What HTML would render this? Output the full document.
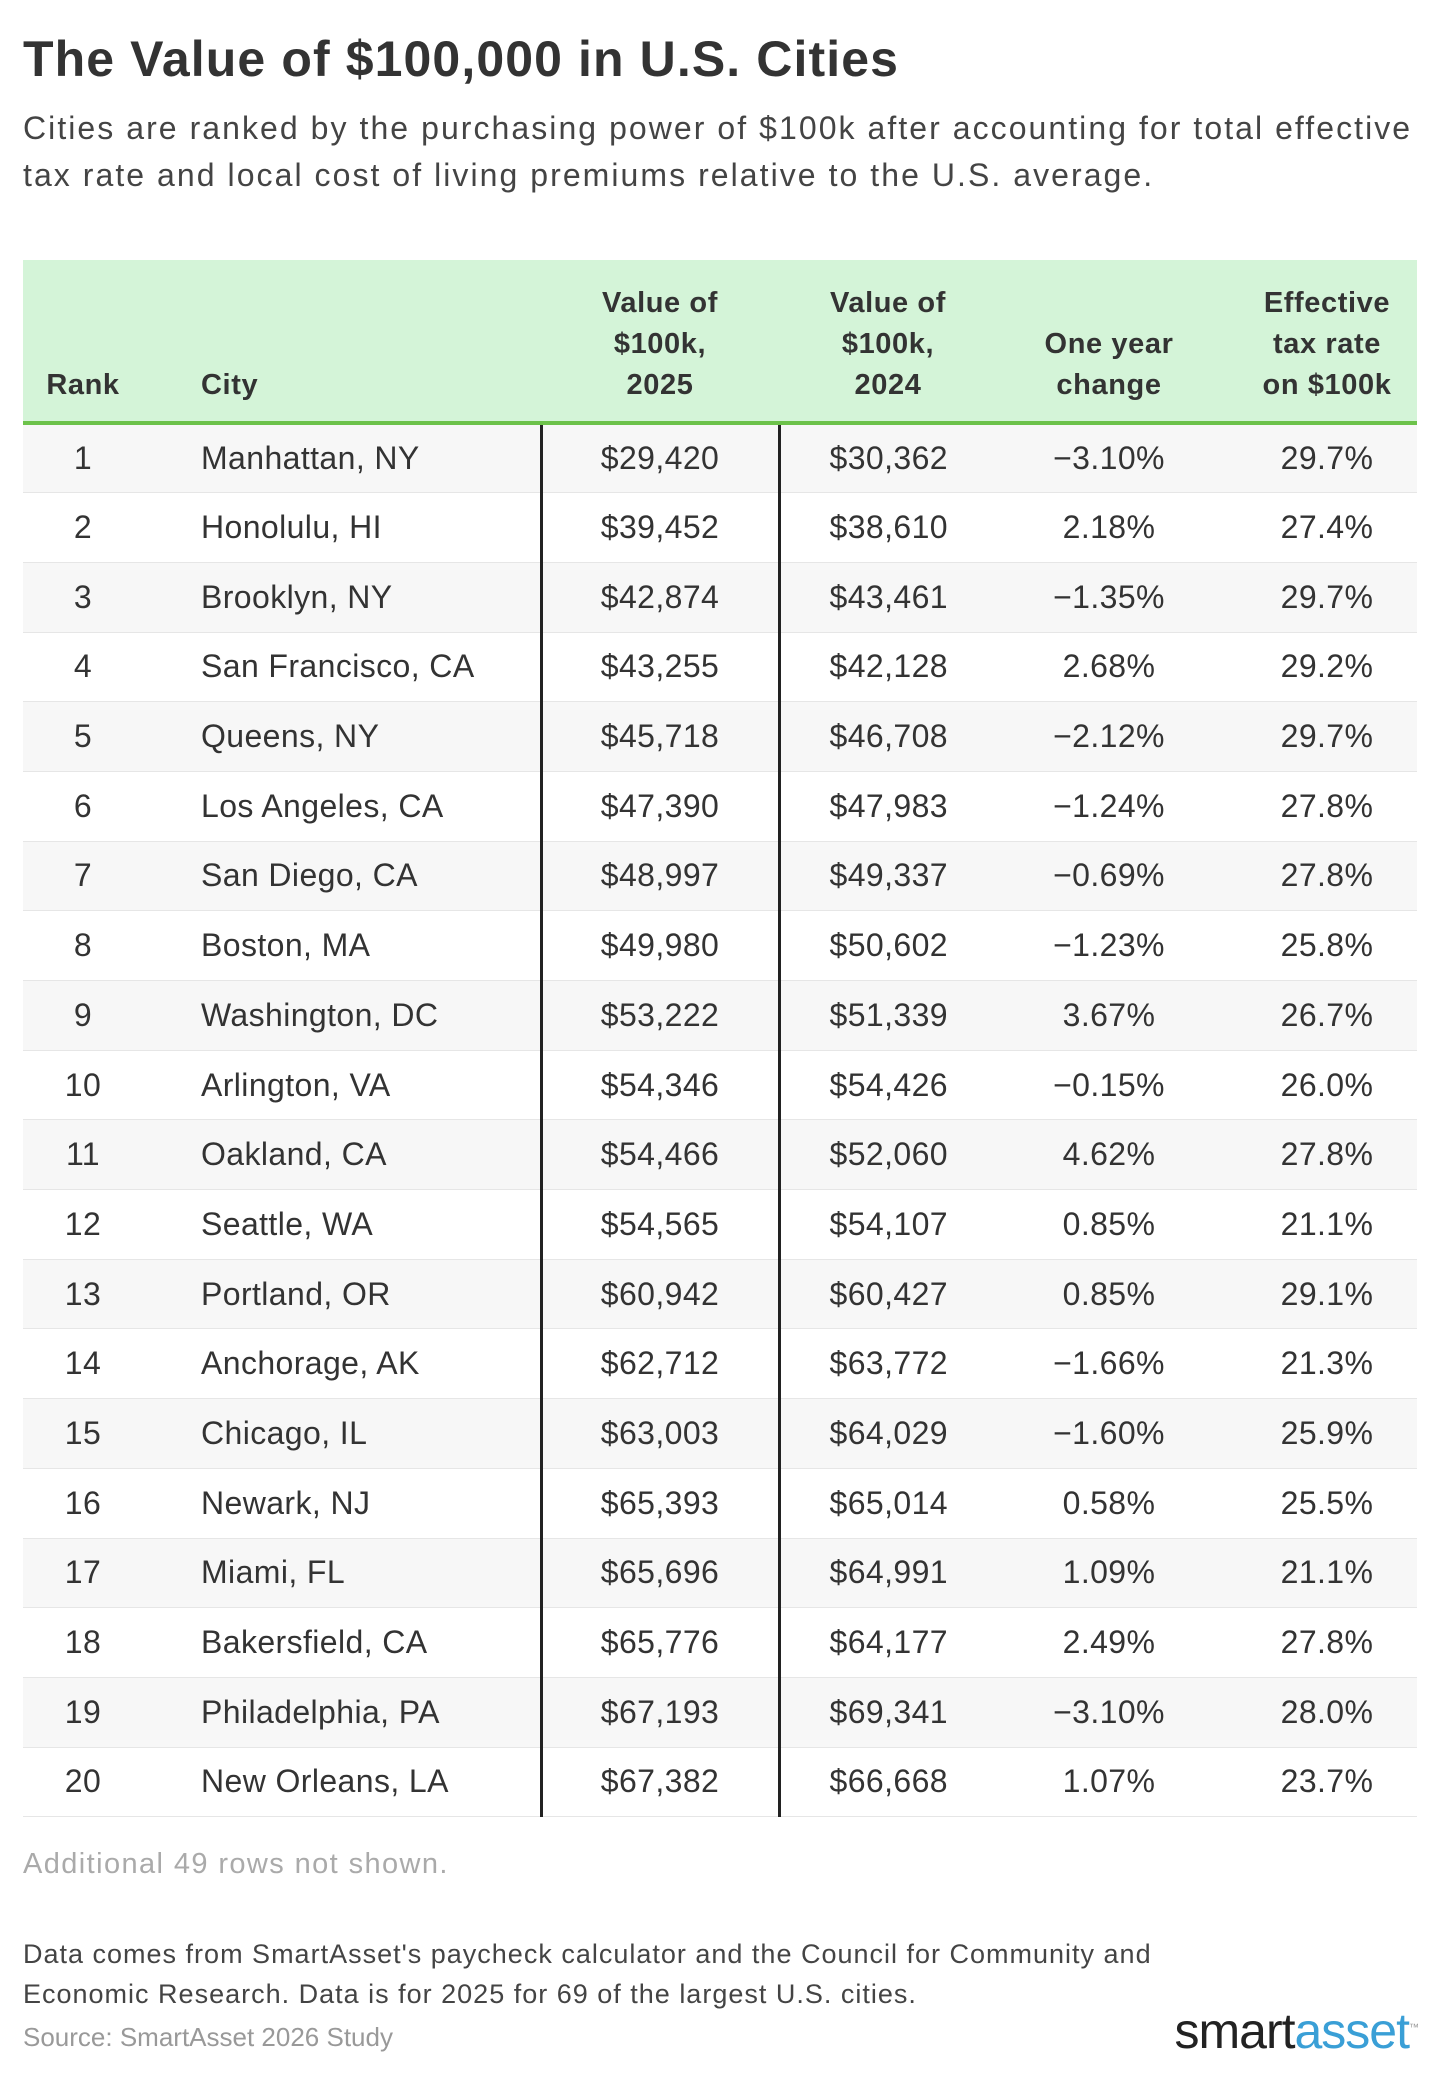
<!DOCTYPE html>
<html><head><meta charset="utf-8"><style>
*{margin:0;padding:0;box-sizing:border-box}
body{width:1440px;height:2079px;background:#fff;font-family:"Liberation Sans",sans-serif;color:#333;position:relative;overflow:hidden}
.t{position:absolute;left:23px;top:30px;font-size:50px;font-weight:bold;color:#333;letter-spacing:1.1px}
.s{position:absolute;left:23px;top:105px;font-size:32px;line-height:47px;color:#444;width:1430px;letter-spacing:2.05px;white-space:nowrap}
table{position:absolute;left:23px;top:260px;width:1394px;border-collapse:collapse;table-layout:fixed}
th{background:#d4f4d8;font-size:29px;line-height:41px;font-weight:bold;vertical-align:bottom;padding:0 0 15px;height:163px;border-bottom:4px solid #6cc24a;color:#333;letter-spacing:0.6px}
td{height:69.7px;font-size:32px;text-align:center;color:#333;border-bottom:1px solid #e6e6e6;letter-spacing:0.4px}
tr:nth-child(even) td{background:#f7f7f7}
td.c,th.c{text-align:left;padding-left:58px}
td.v{border-left:3px solid #222}
td.r,th.r{padding-left:16px}
.a{position:absolute;left:23px;top:1848px;font-size:29px;color:#aaa;letter-spacing:1.4px}
.d{position:absolute;left:23px;top:1934px;font-size:27px;line-height:40px;color:#444;letter-spacing:1px}
.src{position:absolute;left:23px;top:2022px;font-size:26px;color:#999}
.logo{position:absolute;right:22px;top:2002px;font-size:50px;letter-spacing:-1px}
</style></head><body>
<div class="t">The Value of $100,000 in U.S. Cities</div>
<div class="s">Cities are ranked by the purchasing power of $100k after accounting for total effective<br>tax rate and local cost of living premiums relative to the U.S. average.</div>
<table>
<colgroup><col style="width:120px"><col style="width:398px"><col style="width:238px"><col style="width:218px"><col style="width:224px"><col style="width:196px"></colgroup>
<tr><th>Rank</th><th class="c">City</th><th>Value of<br>$100k,<br>2025</th><th>Value of<br>$100k,<br>2024</th><th>One year<br>change</th><th class="r">Effective<br>tax rate<br>on $100k</th></tr>
<tr><td>1</td><td class="c">Manhattan, NY</td><td class="v">$29,420</td><td class="v">$30,362</td><td>−3.10%</td><td class="r">29.7%</td></tr>
<tr><td>2</td><td class="c">Honolulu, HI</td><td class="v">$39,452</td><td class="v">$38,610</td><td>2.18%</td><td class="r">27.4%</td></tr>
<tr><td>3</td><td class="c">Brooklyn, NY</td><td class="v">$42,874</td><td class="v">$43,461</td><td>−1.35%</td><td class="r">29.7%</td></tr>
<tr><td>4</td><td class="c">San Francisco, CA</td><td class="v">$43,255</td><td class="v">$42,128</td><td>2.68%</td><td class="r">29.2%</td></tr>
<tr><td>5</td><td class="c">Queens, NY</td><td class="v">$45,718</td><td class="v">$46,708</td><td>−2.12%</td><td class="r">29.7%</td></tr>
<tr><td>6</td><td class="c">Los Angeles, CA</td><td class="v">$47,390</td><td class="v">$47,983</td><td>−1.24%</td><td class="r">27.8%</td></tr>
<tr><td>7</td><td class="c">San Diego, CA</td><td class="v">$48,997</td><td class="v">$49,337</td><td>−0.69%</td><td class="r">27.8%</td></tr>
<tr><td>8</td><td class="c">Boston, MA</td><td class="v">$49,980</td><td class="v">$50,602</td><td>−1.23%</td><td class="r">25.8%</td></tr>
<tr><td>9</td><td class="c">Washington, DC</td><td class="v">$53,222</td><td class="v">$51,339</td><td>3.67%</td><td class="r">26.7%</td></tr>
<tr><td>10</td><td class="c">Arlington, VA</td><td class="v">$54,346</td><td class="v">$54,426</td><td>−0.15%</td><td class="r">26.0%</td></tr>
<tr><td>11</td><td class="c">Oakland, CA</td><td class="v">$54,466</td><td class="v">$52,060</td><td>4.62%</td><td class="r">27.8%</td></tr>
<tr><td>12</td><td class="c">Seattle, WA</td><td class="v">$54,565</td><td class="v">$54,107</td><td>0.85%</td><td class="r">21.1%</td></tr>
<tr><td>13</td><td class="c">Portland, OR</td><td class="v">$60,942</td><td class="v">$60,427</td><td>0.85%</td><td class="r">29.1%</td></tr>
<tr><td>14</td><td class="c">Anchorage, AK</td><td class="v">$62,712</td><td class="v">$63,772</td><td>−1.66%</td><td class="r">21.3%</td></tr>
<tr><td>15</td><td class="c">Chicago, IL</td><td class="v">$63,003</td><td class="v">$64,029</td><td>−1.60%</td><td class="r">25.9%</td></tr>
<tr><td>16</td><td class="c">Newark, NJ</td><td class="v">$65,393</td><td class="v">$65,014</td><td>0.58%</td><td class="r">25.5%</td></tr>
<tr><td>17</td><td class="c">Miami, FL</td><td class="v">$65,696</td><td class="v">$64,991</td><td>1.09%</td><td class="r">21.1%</td></tr>
<tr><td>18</td><td class="c">Bakersfield, CA</td><td class="v">$65,776</td><td class="v">$64,177</td><td>2.49%</td><td class="r">27.8%</td></tr>
<tr><td>19</td><td class="c">Philadelphia, PA</td><td class="v">$67,193</td><td class="v">$69,341</td><td>−3.10%</td><td class="r">28.0%</td></tr>
<tr><td>20</td><td class="c">New Orleans, LA</td><td class="v">$67,382</td><td class="v">$66,668</td><td>1.07%</td><td class="r">23.7%</td></tr>
</table>
<div class="a">Additional 49 rows not shown.</div>
<div class="d">Data comes from SmartAsset's paycheck calculator and the Council for Community and<br>Economic Research. Data is for 2025 for 69 of the largest U.S. cities.</div>
<div class="src">Source: SmartAsset 2026 Study</div>
<div class="logo"><span style="color:#222">smart</span><span style="color:#3a9fd6">asset</span><sup style="font-size:10px;color:#999">™</sup></div>
</body></html>
